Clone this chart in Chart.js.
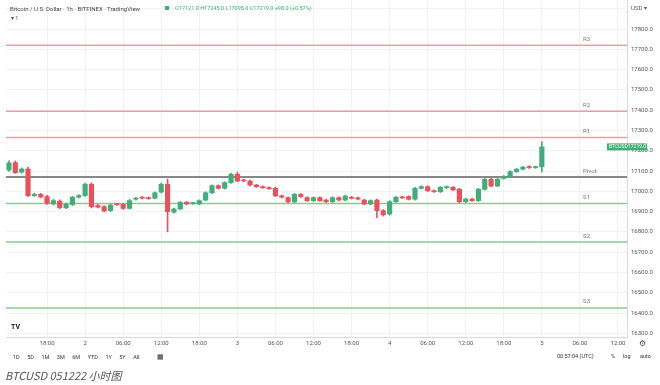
<!DOCTYPE html>
<html>
<head>
<meta charset="utf-8">
<script src="https://cdn.jsdelivr.net/npm/chart.js@4.4.0/dist/chart.umd.min.js"></script>
<style>
body { margin: 0; background: #fff; font-family: Roboto, "Noto Sans", sans-serif; }
#wrap { position: relative; width: 660px; height: 385px; overflow: hidden; }
#grafico { position: absolute; left: 0; top: 0; }
.txt { position: absolute; white-space: nowrap; color: #333; line-height: 1; }
#barra span { margin-right: 7.5px; }
</style>
</head>
<body>
<div id="wrap">
  <canvas id="grafico" width="660" height="350"></canvas>

  <!-- cabeçalho -->
  <div class="txt" style="left:10px;top:6px;font-size:6px;color:#444;">Bitcoin / U.S. Dollar · 1h · BITFINEX · TradingView</div>
  <div class="txt" style="left:165px;top:6px;width:4px;height:4px;background:#3fae78;"></div>
  <div class="txt" id="ohlc" style="left:175px;top:6px;font-size:5.5px;color:#3fae78;"></div>
  <div class="txt" style="left:11px;top:16px;font-size:5.5px;color:#555;">▾ 1</div>
  <div class="txt" style="left:11px;top:324px;font-size:7px;font-weight:bold;color:#131722;">TV</div>

  <!-- barra de baixo -->
  <div class="txt" id="barra" style="left:13px;top:354px;font-size:5.5px;">
    <span>1D</span><span>5D</span><span>1M</span><span>3M</span><span>6M</span><span>YTD</span><span>1Y</span><span>5Y</span><span>All</span><span style="margin-left:10px;font-size:7px;">▦</span>
  </div>
  <div class="txt" style="left:557px;top:354px;font-size:5.5px;">00:57:04 (UTC)</div>
  <div class="txt" style="left:611px;top:354px;font-size:5.5px;">%</div>
  <div class="txt" style="left:623px;top:354px;font-size:5.5px;">log</div>
  <div class="txt" style="left:640px;top:354px;font-size:5.5px;">auto</div>
  <div class="txt" style="left:639px;top:340px;font-size:8px;color:#444;">⚙</div>

  <!-- legenda -->
  <div class="txt" style="left:5px;top:370px;font-size:11px;font-style:italic;color:#555;font-family:'Noto Sans CJK SC','Noto Sans',sans-serif;">BTCUSD 051222 小时图</div>
</div>

<script>
// Velas de 1h, da 12:00 do dia 1 até 00:00 do dia 5 (índice = hora)
var abertura = [17105, 17141, 17094, 17110, 16979, 16985, 16974, 16938, 16952, 16919,
  16935, 16971, 16979, 17035, 16930, 16924, 16905, 16936, 16936, 16916,
  16961, 16971, 16968, 16966, 16996, 17035, 16897, 16913, 16946, 16940,
  16938, 16957, 16993, 17028, 17015, 17043, 17084, 17055, 17051, 17031,
  17023, 17018, 17015, 16978, 16969, 16948, 16985, 16969, 16954, 16969,
  16957, 16949, 16969, 16957, 16971, 16968, 16957, 16938, 16957, 16905,
  16888, 16949, 16971, 16974, 16961, 17015, 17023, 17003, 16998, 17018,
  17020, 17010, 16949, 16962, 16954, 17010, 17059, 17026, 17064, 17072,
  17097, 17109, 17122, 17117, 17121];
var maxima = [17150, 17150, 17115, 17118, 16990, 16990, 16980, 16960, 16958, 16942,
  16976, 16984, 17040, 17042, 16936, 16930, 16938, 16941, 16940, 16960,
  16970, 16975, 16972, 16998, 17040, 17060, 16918, 16950, 16950, 16946,
  16958, 16998, 17032, 17032, 17048, 17090, 17095, 17060, 17055, 17035,
  17027, 17022, 17020, 16982, 16973, 16990, 16989, 16973, 16973, 16973,
  16961, 16973, 16973, 16981, 16975, 16972, 16961, 16958, 16962, 16910,
  16954, 16975, 16975, 16978, 17020, 17027, 17027, 17007, 17024, 17027,
  17024, 17015, 16966, 16966, 17015, 17064, 17064, 17065, 17078, 17102,
  17113, 17123, 17126, 17125, 17245];
var minima = [17098, 17088, 17090, 16974, 16975, 16968, 16936, 16933, 16914, 16915,
  16930, 16967, 16975, 16918, 16918, 16898, 16900, 16930, 16911, 16912,
  16957, 16962, 16960, 16962, 16992, 16800, 16892, 16909, 16934, 16936,
  16934, 16953, 16989, 17011, 17011, 17039, 17047, 17047, 17027, 17019,
  17014, 17009, 16974, 16967, 16944, 16944, 16970, 16950, 16950, 16950,
  16945, 16945, 16953, 16953, 16962, 16958, 16934, 16934, 16870, 16878,
  16882, 16945, 16964, 16957, 16957, 17011, 16999, 16994, 16994, 17014,
  17003, 16944, 16945, 16950, 16950, 17006, 17022, 17022, 17060, 17068,
  17093, 17105, 17113, 17113, 17095];
var fechamento = [17140, 17092, 17110, 16979, 16985, 16972, 16941, 16954, 16919, 16936,
  16971, 16979, 17035, 16924, 16922, 16903, 16932, 16934, 16916, 16954,
  16966, 16966, 16964, 16993, 17035, 16900, 16913, 16946, 16938, 16942,
  16954, 16993, 17028, 17015, 17043, 17084, 17051, 17051, 17031, 17023,
  17018, 17013, 16978, 16971, 16948, 16985, 16974, 16954, 16969, 16954,
  16949, 16969, 16957, 16977, 16966, 16962, 16938, 16954, 16905, 16884,
  16949, 16971, 16968, 16961, 17015, 17023, 17003, 16998, 17020, 17023,
  17007, 16949, 16962, 16954, 17010, 17059, 17026, 17059, 17072, 17097,
  17109, 17119, 17117, 17121, 17219];

// Pontos de pivô
var niveis = [17720, 17395, 17265, 17070, 16940, 16750, 16425];
var nomesNiveis = ['R3', 'R2', 'R1', 'Pivot', 'S1', 'S2', 'S3'];

// Eixos
var ticksY = [16300, 16400, 16500, 16600, 16700, 16800, 16900, 17000, 17100,
  17200, 17300, 17400, 17500, 17600, 17700, 17800, 17900];
var ticksX = [6, 12, 18, 24, 30, 36, 42, 48, 54, 60, 66, 72, 78, 84, 90, 96];
var rotulosX = ['18:00', '2', '06:00', '12:00', '18:00', '3', '06:00', '12:00',
  '18:00', '4', '06:00', '12:00', '18:00', '5', '06:00', '12:00'];

var VERDE = '#3fae78';
var VERMELHO = '#ea4f5e';
var X_MIN = -0.47, X_MAX = 97.42;
var Y_MIN = 16282, Y_MAX = 17943;

Chart.defaults.font.family = 'Roboto';

var ultimo = abertura.length - 1;
var variacao = fechamento[ultimo] - abertura[ultimo];
document.getElementById('ohlc').textContent =
  'O' + abertura[ultimo].toFixed(1) + ' H' + maxima[ultimo].toFixed(1) +
  ' L' + minima[ultimo].toFixed(1) + ' C' + fechamento[ultimo].toFixed(1) +
  ' +' + variacao.toFixed(1) + ' (+' + (variacao / abertura[ultimo] * 100).toFixed(2) + '%)';

var corVela = abertura.map((o, i) => fechamento[i] >= o ? VERDE : VERMELHO);
var corpos = abertura.map((o, i) => ({ x: i, y: [o, fechamento[i]] }));
var pavios = maxima.map((h, i) => ({ x: i, y: [minima[i], h] }));

function corNivel(nome) {
    if (nome[0] === 'R') return '#f29aa4';
    if (nome[0] === 'S') return '#7ed08e';
    return '#606060';
}

var linhasNiveis = niveis.map((v, k) => ({
    type: 'line',
    data: [{ x: X_MIN, y: v }, { x: X_MAX, y: v }],
    borderColor: corNivel(nomesNiveis[k]),
    borderWidth: 1.5,
    pointRadius: 0,
    order: 3
}));

// Rótulos dos níveis e etiqueta do preço
const extras = {
    id: 'extras',
    afterDraw(chart) {
        const { ctx, scales: { x, y } } = chart;
        ctx.save();
        ctx.font = '6px Roboto';
        ctx.fillStyle = '#777';
        ctx.textBaseline = 'bottom';
        niveis.forEach((v, k) => {
            ctx.fillText(nomesNiveis[k], x.getPixelForValue(90.5), y.getPixelForValue(v) - 3);
        });
        const py = y.getPixelForValue(fechamento[ultimo]);
        ctx.fillStyle = VERDE;
        ctx.fillRect(607, py - 3.5, 40, 7);
        ctx.fillStyle = '#fff';
        ctx.textBaseline = 'middle';
        ctx.font = '5px Roboto';
        ctx.fillText('BTCUSD', 609, py);
        ctx.fillText(fechamento[ultimo].toFixed(1), 628, py);
        ctx.restore();
    }
};

new Chart(document.getElementById('grafico'), {
    type: 'bar',
    data: {
        datasets: [
            {
                label: 'pavio',
                data: pavios,
                backgroundColor: corVela,
                barThickness: 1,
                grouped: false,
                order: 2
            },
            {
                label: 'corpo',
                data: corpos,
                backgroundColor: corVela,
                barThickness: 4.5,
                minBarLength: 1,
                grouped: false,
                order: 1
            }
        ].concat(linhasNiveis)
    },
    options: {
        responsive: false,
        devicePixelRatio: 1,
        animation: false,
        layout: { padding: { left: 6, right: 0, top: 0, bottom: 0 } },
        plugins: { legend: { display: false }, tooltip: { enabled: false } },
        scales: {
            x: {
                type: 'linear',
                offset: false,
                min: X_MIN,
                max: X_MAX,
                grid: { color: '#f1f2f6', drawTicks: false, offset: false },
                border: { color: '#d8dae0' },
                afterBuildTicks: ax => { ax.ticks = ticksX.map(v => ({ value: v })); },
                afterFit: ax => { ax.height = 13; ax.paddingLeft = 0; ax.paddingRight = 0; },
                ticks: {
                    autoSkip: false,
                    maxRotation: 0,
                    padding: 3,
                    color: '#555',
                    font: { size: 6 },
                    callback: v => rotulosX[ticksX.indexOf(v)]
                }
            },
            y: {
                position: 'right',
                min: Y_MIN,
                max: Y_MAX,
                grid: { color: '#f1f2f6', drawTicks: false },
                border: { color: '#d8dae0' },
                afterBuildTicks: ax => { ax.ticks = ticksY.map(v => ({ value: v })); },
                afterFit: ax => { ax.width = 33; ax.paddingTop = 0; ax.paddingBottom = 0; },
                ticks: {
                    padding: 4,
                    color: '#555',
                    font: { size: 6 },
                    callback: v => v === 17900 ? 'USD ▾' : v.toFixed(1)
                }
            }
        }
    },
    plugins: [extras]
});
</script>
</body>
</html>
